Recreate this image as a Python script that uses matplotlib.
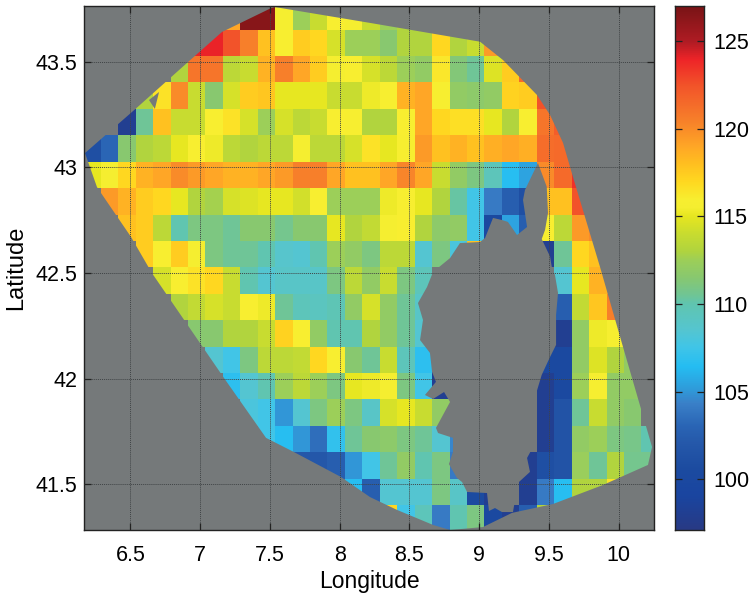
import numpy as np
import matplotlib
matplotlib.use("Agg")
import matplotlib.pyplot as plt
from matplotlib.colors import LinearSegmentedColormap
from matplotlib.patches import Polygon, PathPatch
from matplotlib.path import Path

plt.rcParams['font.family'] = ['Liberation Sans', 'DejaVu Sans']
N = np.nan

# grid of the field: 0.125 degree cells
lon_first_edge = 6.1635
lat_first_edge = 43.777
cell = 0.125
n_cols, n_rows = 33, 20

row_starts = [8, 6, 5, 3, 2, 0, 0, 1, 2, 3, 4, 5, 6, 7, 8, 9, 10, 12, 15, 17]
row_00 = [119,126.5,126.5,115.5,112.5,114,116,115.5,114,112.5,113,113]
row_01 = [124,124,122.5,120.5,118,116,117.5,117,114.5,112.5,112.5,111.5,113,113,117,113,114,119.5]
row_02 = [113,121,121,113.5,114,118.5,120.5,119,117.5,115.5,116,114.5,113.5,112.5,112,116.3,111.3,110.5,114.7,117.5,121.5]
row_03 = [113,116.5,120,114,111.5,114.5,117.5,117.7,115,115,115,114,114,115.3,115.8,118.5,119,115.8,112,111.7,112,117.3,117.5,122.5]
row_04 = [98,110.5,118,114,114,116,116.5,114.5,112.5,114.5,113.5,114,116,115.8,113,113,116,119,117,116.7,116.7,115,113,116,121,122]
row_05 = [101,103,111.5,113,113.5,115,116,115.3,113.5,113,113.5,113.5,115.5,113.5,113.5,114.5,116.5,115,115.8,119.5,118,118.5,118,118.7,119,118.6,121.3,121.5,122.5]
row_06 = [115,115.5,117,118.5,119,120,119.5,119,118.5,118.5,119,119.5,120.5,120.5,119,118,118,119,120.3,119,114,112,111,109.5,106.5,105.5,120,121.5,123.5]
row_07 = [119.5,118.5,117.5,117,115,113,112.7,114.5,114.7,115,115,114.3,116,112.5,112.5,112.5,115.3,115.8,115,113,110.2,107.5,104,102.5,101,118,118,122.5]
row_08 = [118,117.5,113.5,110,111,111,110.5,111.5,111.5,110.7,111.5,111.5,115,113,113.8,115.5,116,113,111.7,112,107.5,100,105.5,102.5,116,113.5,119.5,120]
row_09 = [117.5,116,117.5,115.5,111,110.5,110.5,110,108.7,108.5,110,112.5,112,111,113.5,113.5,108.5,111,108,118,N,N,N,98,110.5,117,118]
row_10 = [114.5,116,116.5,117,114,110,108.5,109,109,109,111,113.5,112,114,111,109.5,N,N,N,N,N,N,N,108.5,115,118.5,119]
row_11 = [113,113.8,114.5,114,116,115.3,110.5,109.5,109.3,109.8,112,114.5,112,110.5,109,N,N,N,N,N,N,N,102.5,113.8,117.7,120.5]
row_12 = [111.5,111.5,113,113,114,117.2,116,112,110,110,113,112,110.5,108.5,N,N,N,N,N,N,N,98,112,115.3,115.7]
row_13 = [108.5,107.5,111,113.5,113.5,113.8,117,116,111.5,110.5,114,109.5,106.7,100,N,N,N,N,N,100,100,112,114.7,113,112]
row_14 = [106.7,108.5,110,112.5,113.5,112.5,111,115,115.3,115.5,111,107.5,98,N,N,N,N,N,98,100,112.5,115.7,112,112]
row_15 = [108,107.5,105,108.5,111,112.5,111,109,114.5,115,114,112,N,N,N,N,N,98,101.5,110.5,114,112,111.5]
row_16 = [107.5,106.5,105,103.5,107,110.5,111.5,111.8,111,110.5,108.5,104.5,N,N,N,N,98,101.5,112,112.5,111,110.8,110]
row_17 = [102,102,102.5,105,107.5,110.5,112,110,111,104,N,N,N,98,101,101.5,112.3,110.5,113,110.7,110.7]
row_18 = [106.5,102.5,108.5,108.5,108.5,111,109,100.5,98,N,98,104,106.5,113,113,116.5]
row_19 = [117,107.5,109.5,104,110,111,100,98,102.5,113]
rows = [row_00,row_01,row_02,row_03,row_04,row_05,row_06,row_07,row_08,row_09,
        row_10,row_11,row_12,row_13,row_14,row_15,row_16,row_17,row_18,row_19]

# survey outline and coast, lon/lat
outline_lon = [6.175,6.539,6.914,7.157,7.506,7.537,8.218,9.007,9.172,9.415,9.509,9.602,9.673,9.867,10.032,10.240,10.211,9.888,9.530,9.236,9.028,8.792,8.670,8.412,8.218,8.010,7.673,7.473,7.172,6.655,6.505,6.261]
outline_lat = [43.068,43.278,43.499,43.641,43.753,43.759,43.684,43.595,43.508,43.343,43.248,43.116,42.955,42.529,42.150,41.677,41.592,41.497,41.407,41.365,41.298,41.284,41.308,41.379,41.440,41.535,41.653,41.720,42.003,42.500,42.671,42.907]
coast_lon = [9.422,9.485,9.494,9.473,9.449,9.458,9.509,9.521,9.544,9.566,9.552,9.552,9.509,9.449,9.413,9.401,9.387,9.344,9.365,9.279,9.243,9.164,9.114,9.071,9.057,8.914,8.878,8.842,8.784,8.813,8.813,8.706,8.691,8.792,8.749,8.670,8.612,8.691,8.663,8.648,8.577,8.598,8.562,8.627,8.670,8.792,8.863,9.007,9.043,9.100,9.164,9.207,9.272,9.344,9.315,9.329]
coast_lat = [43.021,42.909,42.784,42.704,42.661,42.649,42.578,42.530,42.491,42.406,42.302,42.160,42.103,42.018,41.939,41.781,41.677,41.625,41.559,41.507,41.369,41.369,41.388,41.374,41.459,41.464,41.511,41.530,41.596,41.653,41.720,41.743,41.767,41.890,41.937,41.904,41.923,41.985,42.032,42.122,42.183,42.278,42.358,42.434,42.505,42.571,42.642,42.647,42.666,42.761,42.751,42.742,42.680,42.718,42.846,42.893]
islet_lon = [6.634,6.706,6.676]
islet_lat = [43.319,43.357,43.277]

cmap_values = [97.1,99,100.5,102,103,104.3,105,106.4,107.5,108.5,110,110.5,111.5,112.5,113,114,115,115.5,116,117,118,119,120.5,122.5,124,125,127]
cmap_colors = ['#283a85','#1a45a0','#1c4ba0','#2558aa','#2a65b5','#3a80c8','#3098d8','#25bdf2','#40c5e8','#55c5d0','#60c5b0','#70c595','#88c870','#9dcf58','#b0d43f','#c8dc30','#e6e620','#f5ee30','#f8ee30','#ffd820','#ffc020','#ffa726','#f7802a','#f2542a','#ee2428','#b01c24','#7a1416']
x_ticks = [6.5,7,7.5,8,8.5,9,9.5,10]
y_ticks = [41.5,42,42.5,43,43.5]
bar_ticks = [100,105,110,115,120,125]
x_tick_labels = ['6.5','7','7.5','8','8.5','9','9.5','10']
y_tick_labels = ['41.5','42','42.5','43','43.5']

vmin, vmax = cmap_values[0], cmap_values[-1]
cmap = LinearSegmentedColormap.from_list(
    'field', [((v - vmin) / (vmax - vmin), c) for v, c in zip(cmap_values, cmap_colors)], N=256)

field = np.full((n_rows, n_cols), np.nan)
for i, (s, r) in enumerate(zip(row_starts, rows)):
    field[i, s:s + len(r)] = r
lon_edges = lon_first_edge + cell * np.arange(n_cols + 1)
lat_edges = lat_first_edge - cell * np.arange(n_rows + 1)

GRAY = '#75797a'
W, H = 749, 598
xlim = (6.168, 10.254)
ylim = (41.284, 43.764)
fig = plt.figure(figsize=(W / 100, H / 100), dpi=100)
ax = fig.add_axes([84 / W, 1 - 530 / H, 570 / W, 524 / H])
ax.set_facecolor(GRAY)
ax.pcolormesh(lon_edges, lat_edges, np.ma.masked_invalid(field), cmap=cmap,
              vmin=vmin, vmax=vmax, zorder=1, linewidth=0, antialiased=False)

# gray everywhere outside the survey outline (smooth edge)
frame = [(xlim[0] - 1, ylim[0] - 1), (xlim[1] + 1, ylim[0] - 1), (xlim[1] + 1, ylim[1] + 1), (xlim[0] - 1, ylim[1] + 1), (xlim[0] - 1, ylim[0] - 1)]
ring = list(zip(outline_lon, outline_lat))
ring = ring + [ring[0]]
verts = frame + ring
codes = [Path.MOVETO] + [Path.LINETO] * 3 + [Path.CLOSEPOLY] + [Path.MOVETO] + [Path.LINETO] * (len(ring) - 2) + [Path.CLOSEPOLY]
ax.add_patch(PathPatch(Path(verts, codes), fc=GRAY, ec='none', zorder=2))
ax.add_patch(Polygon(np.column_stack([coast_lon, coast_lat]), closed=True, fc=GRAY, ec='none', zorder=2))
ax.add_patch(Polygon(np.column_stack([islet_lon, islet_lat]), closed=True, fc=GRAY, ec='none', zorder=2))

ax.set_xlim(*xlim)
ax.set_ylim(*ylim)
ax.set_xticks(x_ticks, x_tick_labels)
ax.set_yticks(y_ticks, y_tick_labels)
ax.grid(True, color='#404446', linestyle=(0, (1, 1)), linewidth=0.7, zorder=3)
ax.set_axisbelow(False)
ax.tick_params(direction='in', top=True, right=True, length=5, width=0.9, labelsize=15.5, color='#222222')
ax.tick_params(axis='x', pad=10.5)
ax.tick_params(axis='y', pad=5)
ax.set_xlabel('Longitude', fontsize=16.5, labelpad=3)
ax.set_ylabel('Latitude', fontsize=17, labelpad=6)
for s in ax.spines.values():
    s.set_linewidth(1.0)
    s.set_color('#222222')

cax = fig.add_axes([675 / W, 1 - 530 / H, 29 / W, 524 / H])
gradient = np.linspace(vmin, vmax, 256).reshape(-1, 1)
cax.imshow(gradient, origin='lower', aspect='auto', cmap=cmap, vmin=vmin, vmax=vmax,
           extent=[0, 1, vmin, vmax])
cax.set_xticks([])
cax.set_yticks(bar_ticks)
cax.yaxis.tick_right()
cax.tick_params(axis='y', direction='in', left=True, right=True, length=5, width=0.9, labelsize=15.5, pad=7, color='#222222')
for s in cax.spines.values():
    s.set_linewidth(1.0)
    s.set_color('#222222')

fig.savefig('out.png', dpi=100)
